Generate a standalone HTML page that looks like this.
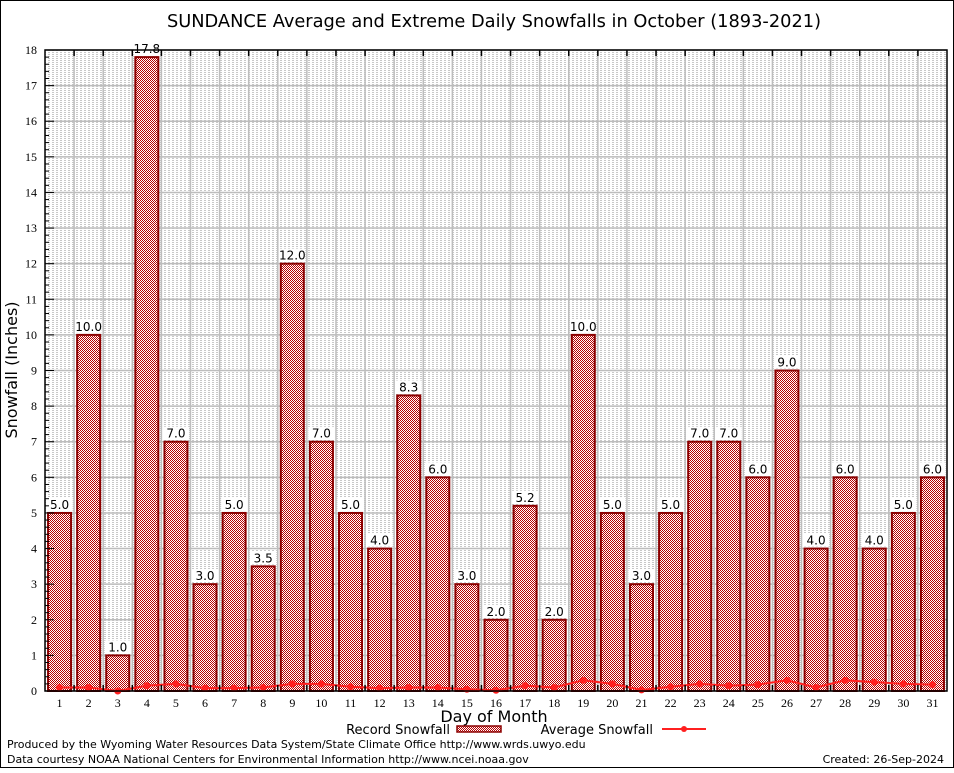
<!DOCTYPE html>
<html><head><meta charset="utf-8"><style>
body{margin:0;background:#fff;}
svg text{font-family:"DejaVu Sans","Liberation Sans",sans-serif;}
.serif{font-family:"Liberation Serif","DejaVu Serif",serif !important;}
</style></head><body>
<svg id="chart" width="954" height="768" viewBox="0 0 954 768" xmlns="http://www.w3.org/2000/svg">
<defs>
<pattern id="chk" width="2" height="2" patternUnits="userSpaceOnUse">
<rect width="2" height="2" fill="#fff"/><rect width="1" height="1" fill="#b80000"/><rect x="1" y="1" width="1" height="1" fill="#b80000"/>
</pattern>
<pattern id="dots" width="4" height="2" patternUnits="userSpaceOnUse">
<rect width="2" height="1" fill="#c8c8c8"/>
</pattern>
</defs>
<rect x="0.5" y="0.5" width="953" height="767" fill="#fff" stroke="#000"/>
<text x="494" y="27" font-size="17.8" text-anchor="middle">SUNDANCE Average and Extreme Daily Snowfalls in October (1893-2021)</text>
<g id="grid"></g>
<g id="bars"></g>
<g id="avg"></g>
<g id="axes"></g>
<text transform="translate(17,370) rotate(-90)" font-size="16" text-anchor="middle">Snowfall (Inches)</text>
<text x="494" y="722" font-size="16" text-anchor="middle">Day of Month</text>
<g>
<text x="450" y="734" font-size="13" text-anchor="end">Record Snowfall</text>
<rect x="457" y="726" width="44" height="6" fill="url(#chk)" stroke="#8b0000" stroke-width="1.5"/>
<text x="653" y="734" font-size="13" text-anchor="end">Average Snowfall</text>
<line x1="662" y1="729" x2="706" y2="729" stroke="#ff2020" stroke-width="2"/>
<circle cx="684" cy="729" r="3" fill="#ff2020"/>
</g>
<text x="7" y="748" font-size="11">Produced by the Wyoming Water Resources Data System/State Climate Office http://www.wrds.uwyo.edu</text>
<text x="7" y="763" font-size="11">Data courtesy NOAA National Centers for Environmental Information http://www.ncei.noaa.gov</text>
<text x="944" y="763" font-size="11" text-anchor="end">Created: 26-Sep-2024</text>
</svg>
<script>
const days = [1,2,3,4,5,6,7,8,9,10,11,12,13,14,15,16,17,18,19,20,21,22,23,24,25,26,27,28,29,30,31];
const recordSnow = [5.0,10.0,1.0,17.8,7.0,3.0,5.0,3.5,12.0,7.0,5.0,4.0,8.3,6.0,3.0,2.0,5.2,2.0,10.0,5.0,3.0,5.0,7.0,7.0,6.0,9.0,4.0,6.0,4.0,5.0,6.0];
const avgSnow = [0.1,0.1,0.0,0.15,0.2,0.08,0.08,0.1,0.2,0.2,0.12,0.08,0.1,0.1,0.05,0.02,0.15,0.1,0.3,0.2,0.03,0.12,0.2,0.15,0.18,0.3,0.1,0.3,0.25,0.2,0.18];
const yTicks = [0,1,2,3,4,5,6,7,8,9,10,11,12,13,14,15,16,17,18];

const NS="http://www.w3.org/2000/svg";
const L=45,R=947,T=50,B=691,YMAX=18;
const step=(R-L)/days.length;
const x=d=>L+(d-0.5)*step;
const y=v=>B-(v/YMAX)*(B-T);
function mk(tag,attrs,parent){const e=document.createElementNS(NS,tag);for(const k in attrs)e.setAttribute(k,attrs[k]);parent.appendChild(e);return e;}
const grid=document.getElementById('grid'),bars=document.getElementById('bars'),avg=document.getElementById('avg'),axes=document.getElementById('axes');

let bg=mk('rect',{x:L,y:T,width:R-L,height:B-T,fill:'url(#dots)'},grid);


yTicks.forEach(t=>{
  const g=mk('line',{x1:L,x2:R,y1:y(t),y2:y(t),stroke:'#bdbdbd','stroke-width':1.5},grid);
  
  
  const lab=mk('text',{x:37,y:y(t)+4,'font-size':12,'text-anchor':'end',class:'serif'},axes);
  lab.textContent=t;
  
  
  for(let k=1;k<5&&t<YMAX;k++){mk('line',{x1:L,x2:L+4,y1:y(t+k*0.2),y2:y(t+k*0.2),stroke:'#000'},axes);}
  mk('line',{x1:L,x2:L+9,y1:y(t),y2:y(t),stroke:'#000'},axes);
});
for(let i=1;i<days.length;i++){
  const gx=L+i*step;
  const g=mk('line',{x1:gx,x2:gx,y1:T,y2:B,stroke:'#bdbdbd','stroke-width':1.5},grid);
  
  
  mk('line',{x1:gx,x2:gx,y1:T,y2:T+6,stroke:'#000','stroke-width':1.5},axes);
  mk('line',{x1:gx,x2:gx,y1:B,y2:B-6,stroke:'#000','stroke-width':1.5},axes);
}
days.forEach((d,i)=>{
  const v=recordSnow[i];
  const r=mk('rect',{x:x(d)-11.5,y:y(v),width:23,height:B-y(v),fill:'url(#chk)',stroke:'#8b0000','stroke-width':2},bars);
  
  
  mk('rect',{x:x(d)-13,y:y(v)-15,width:26,height:13,fill:'#fff'},bars);
  const lab=mk('text',{x:x(d),y:y(v)-4,'font-size':12,'text-anchor':'middle'},bars);
  lab.textContent=v.toFixed(1);
  
  
  const xl=mk('text',{x:x(d),y:B+16,'font-size':12,'text-anchor':'middle',class:'serif'},axes);
  xl.textContent=d;
  
  
});
const pts=days.map((d,i)=>x(d)+','+y(avgSnow[i])).join(' ');
const pl=mk('polyline',{points:pts,fill:'none',stroke:'#ff2020','stroke-width':2},avg);


days.forEach((d,i)=>{
  const c=mk('circle',{cx:x(d),cy:y(avgSnow[i]),r:3.5,fill:'#ff2020'},avg);
  
  
});
const fr=mk('rect',{x:L,y:T,width:R-L,height:B-T,fill:'none',stroke:'#000','stroke-width':1.5},axes);


</script>
</body></html>
